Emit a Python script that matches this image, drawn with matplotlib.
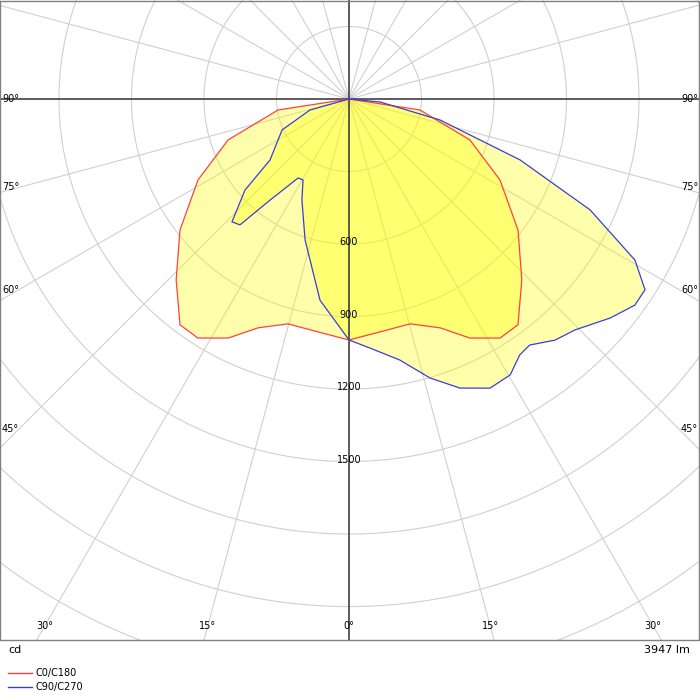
import matplotlib.pyplot as plt
import numpy as np

# C0/C180 curve (symmetric), angle from nadir in degrees, intensity in cd
red_ang = [0, 7.6, 15.2, 21.7, 26.8, 32.3, 36.8, 43.7, 52.2, 61.8, 71.3, 81.2, 90]
red_cd = [997, 972, 964, 1019, 1108, 1170, 1167, 1035, 885, 709, 528, 297, 0]

# C90 (positive angles) / C270 (negative angles)
blue_ang = [-90, -74.2, -65.2, -52.3, -48.8, -43.6, -40.9, -38, -32.8, -29.6, -25, -17.3, -8.2,
            0, 4.8, 11, 16.2, 21, 26, 30.3, 33.7, 36.3, 40.5, 44.4, 50, 54.2, 57.2, 60.6,
            65.3, 70.4, 77, 84.5, 90]
blue_cd = [0, 168, 305, 413, 572, 702, 689, 531, 389, 385, 461, 611, 841,
           997, 1034, 1100, 1202, 1281, 1331, 1322, 1273, 1263, 1312, 1337, 1410, 1458, 1457, 1358,
           1098, 751, 387, 129, 0]

ring_values = np.arange(300, 3301, 300)
ring_labels = [600, 900, 1200, 1500]
flux_text = "3947 lm"

scale = 0.2417  # px per cd
cx, cy = 349, 99


def to_xy(ang, cd):
    a = np.radians(np.asarray(ang, dtype=float))
    r = np.asarray(cd, dtype=float)
    return r * np.sin(a), -r * np.cos(a)


fig = plt.figure(figsize=(7, 7), dpi=100)
ax = fig.add_axes([0, 60 / 700, 1, 640 / 700])
ax.set_xlim(-cx / scale, (700 - cx) / scale)
ax.set_ylim(-(640 - cy) / scale, cy / scale)
ax.set_axis_off()

grid_c = "#d0d0d0"
t = np.linspace(0, 2 * np.pi, 400)
for v in ring_values:
    ax.plot(v * np.cos(t), v * np.sin(t), color=grid_c, lw=0.8, zorder=1)
for a in range(0, 360, 15):
    if a % 90 == 0:
        continue
    x, y = to_xy([a, a], [0, 5000])
    ax.plot(x, y, color=grid_c, lw=0.8, zorder=1)

# curves
ra = np.concatenate([-np.array(red_ang[::-1]), red_ang[1:]])
rc = np.concatenate([red_cd[::-1], red_cd[1:]])
rx, ry = to_xy(ra, rc)
bx, by = to_xy(blue_ang, blue_cd)
ax.fill(rx, ry, color="#ffff00", alpha=0.33, lw=0, zorder=2)
ax.fill(bx, by, color="#ffff00", alpha=0.33, lw=0, zorder=2)
ax.plot(rx, ry, color="#ff4040", lw=0.9, zorder=4)
ax.plot(bx, by, color="#3c3cdc", lw=0.9, zorder=4)

ax.axhline(0, color="#404040", lw=1.2, zorder=3)
ax.axvline(0, color="#404040", lw=1.2, zorder=3)

for v in ring_labels:
    ax.text(0, -v + 8, str(v), ha="center", va="center", fontsize=7, zorder=5)

# angle labels on the frame
fs = 7
ax.text(-cx / scale + 8, 0, "90°", ha="left", va="center", fontsize=fs)
ax.text((700 - cx) / scale - 8, 0, "90°", ha="right", va="center", fontsize=fs)
for a in [75, 60, 45]:
    yv = -(330 / scale) / np.tan(np.radians(a))
    ax.text(-cx / scale + 8, yv, f"{a}°", ha="left", va="center", fontsize=fs)
    ax.text((700 - cx) / scale - 8, yv, f"{a}°", ha="right", va="center", fontsize=fs)
ybot = -(626 - cy) / scale
for a in [-30, -15, 0, 15, 30]:
    xv = (527 / scale) * np.tan(np.radians(a))
    ax.text(xv, ybot, f"{abs(a)}°", ha="center", va="center", fontsize=fs)

# frame
ax.add_patch(plt.Rectangle((-cx / scale, -(640 - cy) / scale), 699 / scale, 639.5 / scale,
                           fill=False, ec="#808080", lw=1, zorder=6, clip_on=False))

fig.text(8 / 700, 1 - 650 / 700, "cd", ha="left", va="center", fontsize=8)
fig.text(690 / 700, 1 - 650 / 700, flux_text, ha="right", va="center", fontsize=8)
fig.add_artist(plt.Line2D([8 / 700, 32 / 700], [1 - 673 / 700] * 2, color="#ff4040", lw=1))
fig.add_artist(plt.Line2D([8 / 700, 32 / 700], [1 - 687 / 700] * 2, color="#3c3cdc", lw=1))
fig.text(36 / 700, 1 - 673 / 700, "C0/C180", ha="left", va="center", fontsize=7)
fig.text(36 / 700, 1 - 687 / 700, "C90/C270", ha="left", va="center", fontsize=7)

fig.savefig("out.png", dpi=100)
